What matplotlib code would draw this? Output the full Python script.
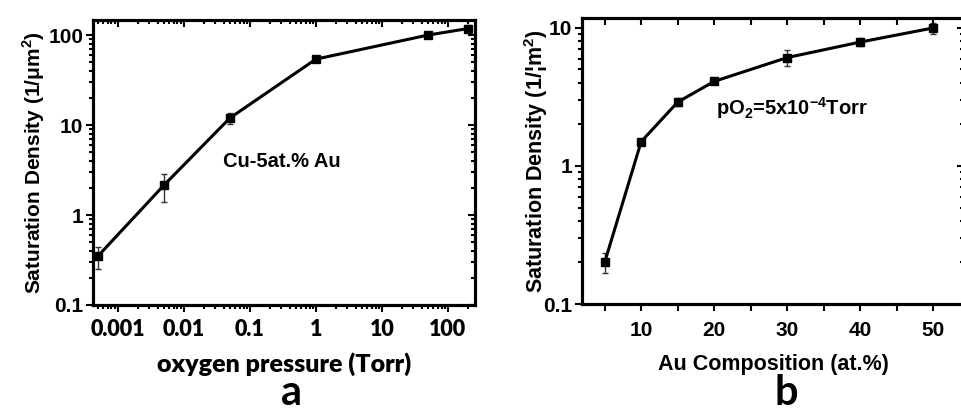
import matplotlib.pyplot as plt
from matplotlib.ticker import LogLocator, FixedLocator, NullFormatter, FuncFormatter

# panel a: saturation density vs oxygen pressure (Cu-5at.% Au)
pressure = [5e-4, 5e-3, 5e-2, 1, 50, 200]
density_a = [0.35, 2.15, 12, 54, 100, 118]
err_a_lo = [0.10, 0.76, 1.8, 2.0, 4.0, 10]
err_a_hi = [0.09, 0.70, 1.5, 2.0, 4.0, 10]

# panel b: saturation density vs Au composition (pO2 = 5e-4 Torr)
au_comp = [5, 10, 15, 20, 30, 40, 50]
density_b = [0.20, 1.5, 2.9, 4.1, 6.1, 7.9, 10]
err_b = [0.033, 0.08, 0.2, 0.2, 0.8, 0.5, 0.9]

BLACK = '#000000'
ARIAL = 'Liberation Sans'
CALIB = 'Lato'

plt.rcParams['mathtext.fontset'] = 'custom'
plt.rcParams['mathtext.rm'] = ARIAL
plt.rcParams['mathtext.bf'] = ARIAL + ':bold'


def fmt_log(v, pos):
    if v >= 1:
        return '%d' % round(v)
    return ('%g' % v)


def style_axes(ax):
    for s in ax.spines.values():
        s.set_linewidth(2.2)
        s.set_color(BLACK)
    ax.tick_params(which='both', direction='out', top=False, right=False,
                   width=1.5, color=BLACK)
    ax.tick_params(which='major', length=5)
    ax.tick_params(which='minor', length=3)


def mirror(ax, logx):
    # top / right ticks point inward, like the original Origin plot
    tx = ax.twiny()
    ty = ax.twinx()
    if logx:
        tx.set_xscale('log')
        tx.xaxis.set_minor_locator(LogLocator(subs=range(2, 10)))
    else:
        tx.xaxis.set_major_locator(FixedLocator([10, 20, 30, 40, 50]))
        tx.xaxis.set_minor_locator(FixedLocator([5, 15, 25, 35, 45]))
    tx.set_xlim(ax.get_xlim())
    ty.set_yscale('log')
    ty.set_ylim(ax.get_ylim())
    for t in (tx, ty):
        t.tick_params(which='both', direction='in', width=1.5,
                      labeltop=False, labelright=False, labelbottom=False,
                      labelleft=False)
        t.tick_params(which='major', length=5)
        t.tick_params(which='minor', length=3)
        t.xaxis.set_minor_formatter(NullFormatter())
        t.yaxis.set_minor_formatter(NullFormatter())
        for s in t.spines.values():
            s.set_linewidth(2.2)
    if not logx:
        tx.tick_params(which='minor', length=5)


fig = plt.figure(figsize=(9.62, 4.11), dpi=100)

# ---- panel a
ax1 = fig.add_axes([93 / 962, 1 - 305 / 411, 382 / 962, 285 / 411])
ax1.set_xscale('log')
ax1.set_yscale('log')
ax1.errorbar(pressure, density_a, yerr=[err_a_lo, err_a_hi], color=BLACK,
             lw=2.2, marker='s', ms=5.5, ecolor='#333333', elinewidth=1,
             capsize=2.5, capthick=1)
ax1.set_xlim(4.2e-4, 257)
ax1.set_ylim(0.1, 147)
style_axes(ax1)
ax1.xaxis.set_major_formatter(FuncFormatter(fmt_log))
ax1.yaxis.set_major_formatter(FuncFormatter(fmt_log))
ax1.xaxis.set_minor_locator(LogLocator(subs=range(2, 10)))
ax1.xaxis.set_minor_formatter(NullFormatter())
ax1.yaxis.set_minor_formatter(NullFormatter())
for lab in ax1.get_xticklabels():
    lab.set_fontfamily(CALIB)
    lab.set_fontweight('heavy')
    lab.set_fontsize(15.5)
for lab in ax1.get_yticklabels():
    lab.set_fontfamily(ARIAL)
    lab.set_fontweight('bold')
    lab.set_fontsize(15)
ax1.tick_params(axis='x', pad=5)
ax1.tick_params(axis='y', pad=2)
ax1.set_xlabel('oxygen pressure (Torr)', fontfamily=CALIB, fontweight='heavy',
               fontsize=18, labelpad=9)
ax1.set_ylabel('Saturation Density (1/\u03bcm$^\\mathbf{2}$)', fontfamily=ARIAL,
               fontweight='bold', fontsize=15, labelpad=1)
ax1.text(0.495, 0.505, 'Cu-5at.% Au', transform=ax1.transAxes, ha='center',
         va='center', fontfamily=ARIAL, fontsize=14.5, fontweight='bold')
mirror(ax1, True)

# ---- panel b
ax2 = fig.add_axes([582 / 962, 1 - 304 / 411, 382 / 962, 286 / 411])
ax2.set_yscale('log')
ax2.errorbar(au_comp, density_b, yerr=err_b, color=BLACK, lw=2.2,
             marker='s', ms=5.5, ecolor='#333333', elinewidth=1,
             capsize=2.5, capthick=1)
ax2.set_xlim(1.9, 54.2)
ax2.set_ylim(0.1, 11.8)
style_axes(ax2)
ax2.xaxis.set_major_locator(FixedLocator([10, 20, 30, 40, 50]))
ax2.xaxis.set_minor_locator(FixedLocator([5, 15, 25, 35, 45]))
ax2.yaxis.set_major_formatter(FuncFormatter(fmt_log))
ax2.yaxis.set_minor_formatter(NullFormatter())
ax2.tick_params(axis='x', which='minor', length=5)
for lab in ax2.get_xticklabels() + ax2.get_yticklabels():
    lab.set_fontfamily(ARIAL)
    lab.set_fontweight('bold')
    lab.set_fontsize(15)
ax2.tick_params(axis='x', pad=7)
ax2.tick_params(axis='y', pad=2)
ax2.set_xlabel('Au Composition (at.%)', fontfamily=ARIAL, fontweight='bold',
               fontsize=15.5, labelpad=10)
ax2.set_ylabel('Saturation Density (1/\u00a6m$^\\mathbf{2}$)', fontfamily=ARIAL,
               fontweight='bold', fontsize=15.5, labelpad=-5)
ax2.text(0.55, 0.685, 'pO$_\\mathbf{2}$=5x10$^\\mathbf{-4}$Torr',
         transform=ax2.transAxes, ha='center', va='center', fontfamily=ARIAL,
         fontsize=14.5, fontweight='bold')
mirror(ax2, False)

fig.text(292 / 962, 0.015, 'a', ha='center', va='baseline',
         fontfamily=CALIB, fontsize=30, fontweight='bold')
fig.text(786 / 962, 0.015, 'b', ha='center', va='baseline',
         fontfamily=CALIB, fontsize=30, fontweight='bold')

fig.savefig('out.png', dpi=100)
